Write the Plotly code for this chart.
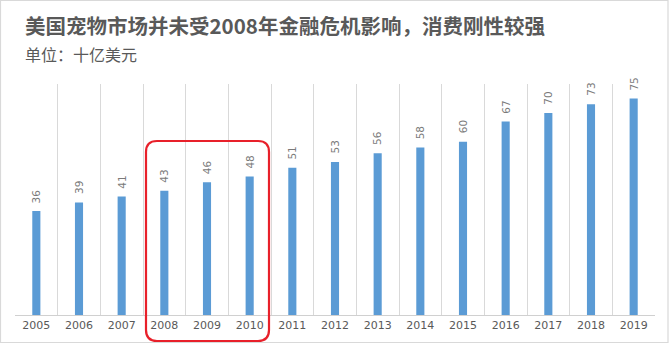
import plotly.graph_objects as go

years = [str(y) for y in range(2005, 2020)]
values = [36, 39, 41, 43, 46, 48, 51, 53, 56, 58, 60, 67, 70, 73, 75]

title_text = "美国宠物市场并未受2008年金融危机影响，消费刚性较强"
unit_text = "单位：十亿美元"

W, H = 669, 344
ML, MR, MT, MB = 15, 14, 84, 29
PW, PH = W - ML - MR, H - MT - MB

def px2paper(px, py):
    return (px - ML) / PW, (H - MB - py) / PH

fig = go.Figure()
fig.add_trace(go.Bar(
    x=years, y=values,
    marker=dict(color="#5b9bd5", line=dict(width=0)),
    cliponaxis=False,
    width=0.19,
))

# data labels, rotated, above each bar (x given as category index)
for i, v in enumerate(values):
    fig.add_annotation(x=i, y=v, xref="x", yref="y", text=str(v), textangle=-90,
                       showarrow=False, xanchor="center", yanchor="bottom", yshift=6,
                       font=dict(family="DejaVu Sans", size=10.5, color="#7a7a7a"))

# rounded highlight rectangle (pixel-based)
x0p, x1p, y0p, y1p, r = 146, 269, 141, 341, 11
def P(px, py):
    a, b = px2paper(px, py)
    return f"{a:.5f},{b:.5f}"
path = (f"M {P(x0p + r, y0p)} L {P(x1p - r, y0p)} Q {P(x1p, y0p)} {P(x1p, y0p + r)} "
        f"L {P(x1p, y1p - r)} Q {P(x1p, y1p)} {P(x1p - r, y1p)} "
        f"L {P(x0p + r, y1p)} Q {P(x0p, y1p)} {P(x0p, y1p - r)} "
        f"L {P(x0p, y0p + r)} Q {P(x0p, y0p)} {P(x0p + r, y0p)} Z")
fig.add_shape(type="path", xref="paper", yref="paper", path=path,
              line=dict(color="#e8202a", width=2.2), fillcolor="rgba(0,0,0,0)")

# outer border
bx0, by1 = px2paper(0.5, 0.5)
bx1, by0 = px2paper(668, 342.5)
fig.add_shape(type="rect", xref="paper", yref="paper", x0=bx0, x1=bx1, y0=by0, y1=by1,
              line=dict(color="#d9d9d9", width=1.2), fillcolor="rgba(0,0,0,0)", layer="below")

tx, ty = px2paper(23, 25)
fig.add_annotation(text=f"<b>{title_text}</b>", xref="paper", yref="paper", x=tx, y=ty,
                   xanchor="left", yanchor="middle", showarrow=False,
                   font=dict(family="Noto Sans CJK SC", size=20.5, color="#595959"))
ux, uy = px2paper(23, 54)
fig.add_annotation(text=unit_text, xref="paper", yref="paper", x=ux, y=uy,
                   xanchor="left", yanchor="middle", showarrow=False,
                   font=dict(family="Noto Sans CJK SC", size=16, color="#595959"))

fig.update_layout(
    width=W, height=H,
    margin=dict(l=ML, r=MR, t=MT, b=MB, pad=0),
    paper_bgcolor="white", plot_bgcolor="white",
    showlegend=False,
    xaxis=dict(type="category", tickson="boundaries", showgrid=True, gridcolor="#d9d9d9",
               gridwidth=1, ticks="", showline=True, linecolor="#d0d0d0", linewidth=1,
               mirror=False, zeroline=False,
               tickfont=dict(family="DejaVu Sans", size=11, color="#595959"),
               range=[-0.5, 14.5]),
    yaxis=dict(range=[0, 80], showgrid=False, showticklabels=False, zeroline=False,
               showline=False, ticks=""),
)
fig.write_html("out.html")
